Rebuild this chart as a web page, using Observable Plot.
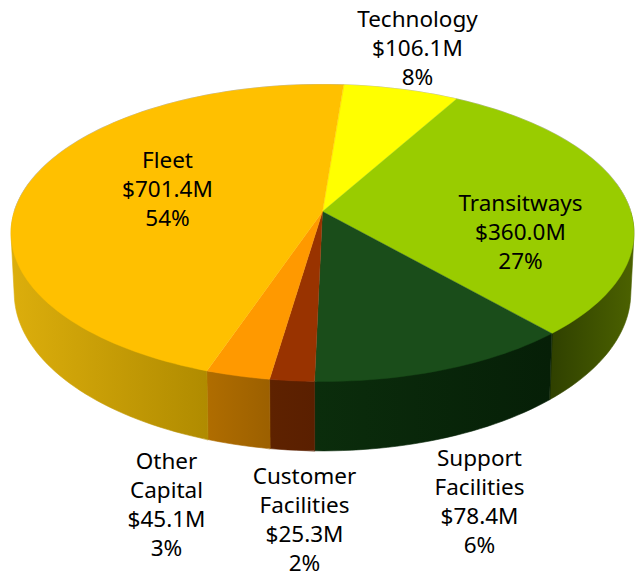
<!DOCTYPE html>
<html>
<head>
<meta charset="utf-8">
<script src="https://cdn.jsdelivr.net/npm/d3@7"></script>
<script src="https://cdn.jsdelivr.net/npm/@observablehq/plot@0.6"></script>
<style>
html,body{margin:0;padding:0;background:#fff}
svg{display:block}
</style>
</head>
<body>
<div id="chart"></div>
<script>
// Data, clockwise from the back of the pie
const categories = ["Technology", "Transitways", "Support\nFacilities", "Customer\nFacilities", "Other\nCapital", "Fleet"];
const amounts = ["$106.1M", "$360.0M", "$78.4M", "$25.3M", "$45.1M", "$701.4M"];
const percents = ["8%", "27%", "6%", "2%", "3%", "54%"];
// Share of the circle each slice actually occupies in the picture (differs from the printed labels)
const drawnShares = [6.9, 30.3, 11.9, 2.0, 2.9, 46.0];

// Styles
const topColors = ["#FFFF00", "#99CC00", "#1A4D1A", "#993300", "#FF9900", "#FFC000"];
const wallStops = [
  ["#B0B000", "#B0B000"],
  ["#2F4000", "#4C6200"],
  ["#0B2D0C", "#061F07"],
  ["#5E2200", "#5A1F00"],
  ["#B06D00", "#9C6000"],
  ["#DCAE0C", "#B08B00"]
];

// Layout: tilted-disc perspective
const startAngle = -85.5;
const topDisc = {cx: 322, cy: 211, rx: 308.2, ry: 145.4, k: 0.1448};
const baseDisc = {cx: 322, cy: 269.5, rx: 305, ry: 154.7, k: 0.1448};
const labelX = [417, 520, 479, 304, 166, 167];
const labelY = [46, 230, 499.5, 517.5, 502.5, 187];

const project = (d, deg) => {
  const a = deg * Math.PI / 180, X = Math.cos(a), Y = Math.sin(a), w = 1 - d.k * Y;
  return [d.cx + d.rx * X / w, d.cy + d.ry * Y / w];
};
const range = (a, b) => {
  const n = Math.max(2, Math.ceil(Math.abs(b - a) / 1.5));
  return d3.range(n + 1).map(i => a + (b - a) * i / n);
};

// Slice angles from the shares
let acc = startAngle;
const slices = drawnShares.map((s, i) => {
  const a0 = acc, a1 = acc + s * 3.6;
  acc = a1;
  return {i, a0, a1};
});

const facePoints = slices.flatMap(({i, a0, a1}) =>
  [[topDisc.cx, topDisc.cy], ...range(a0, a1).map(a => project(topDisc, a))]
    .map(([x, y]) => ({x, y, i})));

// Only the walls of the front-facing slices are seen; each is the hull of its two arcs
const frontWall = s => {
  const a0 = Math.max(s.a0, -12), a1 = Math.min(s.a1, 192);
  if (a1 <= a0) return null;
  const pts = range(a0, a1).flatMap(a => [project(topDisc, a), project(baseDisc, a)]);
  return d3.polygonHull(pts).map(([x, y]) => ({x, y, i: s.i}));
};
const walls = slices.map(frontWall).filter(Boolean);

const rim = range(180, 360).map(a => project(topDisc, a)).map(([x, y]) => ({x, y}));

const labels = categories.map((c, i) => ({
  text: `${c}\n${amounts[i]}\n${percents[i]}`,
  x: labelX[i],
  y: labelY[i]
}));

const defs = () => {
  const svg = d3.create("svg:defs");
  wallStops.forEach((stops, i) => {
    const g = svg.append("linearGradient").attr("id", `wall${i}`);
    g.append("stop").attr("offset", "0%").attr("stop-color", stops[0]);
    g.append("stop").attr("offset", "100%").attr("stop-color", stops[1]);
  });
  return svg.node();
};

const chart = Plot.plot({
  width: 635,
  height: 578,
  margin: 0,
  style: {background: "#fff", overflow: "visible"},
  x: {domain: [0, 635], range: [0, 635], axis: null},
  y: {domain: [0, 578], range: [0, 578], axis: null},
  marks: [
    defs,
    ...walls.map(w => Plot.line(w, {
      x: "x", y: "y", fill: `url(#wall${w[0].i})`, stroke: `url(#wall${w[0].i})`, strokeWidth: 0.6, curve: "linear-closed"
    })),
    Plot.line(rim, {x: "x", y: "y", stroke: "#bdbdbd", strokeWidth: 1.2, curve: "linear"}),
    Plot.line(facePoints, {
      x: "x", y: "y", z: "i", fill: d => topColors[d.i], stroke: d => topColors[d.i], strokeWidth: 0.4, curve: "linear-closed"
    }),
    Plot.text(labels, {
      x: "x", y: "y", text: "text", textAnchor: "middle", lineAnchor: "middle",
      lineHeight: 1.29, fontSize: 22.5, fontFamily: "Noto Sans", fill: "#000"
    })
  ]
});
document.getElementById("chart").append(chart);
</script>
</body>
</html>
